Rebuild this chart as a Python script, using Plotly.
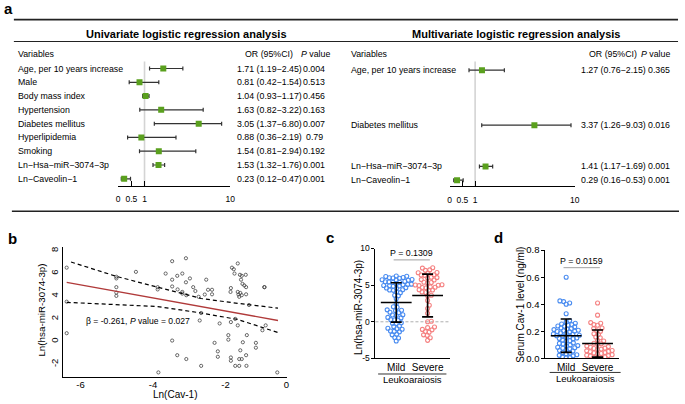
import math
import plotly.graph_objects as go

FONT = 'Liberation Sans, Arial, Helvetica, sans-serif'
W, H = 685, 404

# ---------------- a: logistic regression ----------------
uni_vars = ['Age, per 10 years increase', 'Male', 'Body mass index', 'Hypertension',
            'Diabetes mellitus', 'Hyperlipidemia', 'Smoking',
            'Ln−Hsa−miR−3074−3p', 'Ln−Caveolin−1']
uni_or = [1.71, 0.81, 1.04, 1.63, 3.05, 0.88, 1.54, 1.53, 0.23]
uni_lo = [1.19, 0.42, 0.93, 0.82, 1.37, 0.36, 0.81, 1.32, 0.12]
uni_hi = [2.45, 1.54, 1.17, 3.22, 6.80, 2.19, 2.94, 1.76, 0.47]
uni_p = ['0.004', '0.513', '0.456', '0.163', '0.007', '0.79', '0.192', '0.001', '0.001']

multi_vars = ['Age, per 10 years increase', 'Diabetes mellitus',
              'Ln−Hsa−miR−3074−3p', 'Ln−Caveolin−1']
multi_or = [1.27, 3.37, 1.41, 0.29]
multi_lo = [0.76, 1.26, 1.17, 0.16]
multi_hi = [2.15, 9.03, 1.69, 0.53]
multi_p = ['0.365', '0.016', '0.001', '0.001']

or_ticks = [0, 0.5, 1, 10]
or_tick_text = ['0', '0.5', '1', '10']

# ---------------- b: scatter ----------------
cav_x = [-6.38, -6.38, -6.38, -5.01, -5.01, -5.01, -5.01, -5.01, -4.47, -3.87,
         -3.87, -3.85, -3.65, -3.47, -3.47, -3.47, -3.47, -3.33, -3.32, -3.33,
         -3.19, -3.19, -3.19, -3.09, -3.09, -3.08, -3.08, -2.98, -2.89, -2.83,
         -2.71, -2.74, -2.67, -2.67, -2.57, -2.53, -2.48, -2.37, -2.37, -2.30,
         -2.21, -2.21, -2.16, -1.92, -1.92, -1.86, -1.85, -1.85, -1.85, -1.85,
         -1.82, -1.77, -1.75, -1.73, -1.66, -1.66, -1.64, -1.62, -1.59, -1.55,
         -1.66, -1.62, -1.55, -1.60, -1.55, -1.44, -1.57, -1.53, -1.48, -1.43,
         -1.52, -1.59, -1.43, -1.42, -1.62, -1.73, -1.41, -1.43, -1.35, -1.16,
         -1.16, -0.98, -0.93, -0.92, -0.89, -0.57]
mir_y = [6.52, 3.52, 0.74, 5.72, 5.57, 4.80, 4.32, 4.03, 6.15, 4.80,
         4.60, -2.72, 6.00, 7.09, 5.46, 4.86, 0.09, 5.80, 4.60, -1.20,
         6.00, 4.38, 4.23, 7.35, 5.23, 4.09, -1.54, 5.57, 4.80, 4.46,
         1.86, 3.95, -2.14, 2.52, 4.15, 5.46, 4.57, 4.57, 4.17, -0.11,
         -0.86, -1.34, 1.60, 0.57, 0.17, 4.38, 4.72, 1.72, -1.40, -1.69,
         6.52, 6.38, 6.00, 2.00, 6.89, 4.38, 4.15, 3.95, 4.29, 4.09,
         1.43, -1.54, -1.54, 5.89, 5.80, 5.89, 5.46, 5.09, 4.95, 4.80,
         -0.06, -0.77, -1.20, -2.14, -2.14, -2.14, 0.57, 4.17, 3.23, -0.11,
         -0.54, 1.00, 4.80, 4.80, 1.43, -2.72]
fit_x = [-6.38, -0.55]
fit_y = [5.23, 1.86]
up_x = [-6.26, -5.01, -3.87, -2.67, -1.66, -0.55]
up_y = [7.02, 5.75, 4.80, 3.80, 3.37, 2.95]
lo_x = [-6.38, -5.01, -3.87, -2.67, -1.66, -0.55]
lo_y = [3.46, 3.23, 3.09, 2.52, 1.95, 0.80]

# ---------------- c / d: Mild vs Severe ----------------
groups = ['Mild', 'Severe']
mir_mild = [6.25, 6.21, 6.18, 6.05, 6.02, 5.98, 5.95, 5.78, 5.74, 5.70, 5.66,
            5.50, 5.46, 5.43, 5.40, 5.37, 5.18, 5.14, 5.10, 5.06, 4.95, 4.91,
            4.88, 4.84, 4.66, 4.61, 4.57, 4.38, 4.33, 4.29, 4.05, 3.98, 3.62,
            3.55, 3.14, 2.48, 2.06, 1.98, 1.63, 1.57, 1.52, 1.30, 1.24, 0.97,
            0.92, 0.86, 0.60, 0.53, 0.29, 0.24, 0.18, -0.14, -0.19, -0.24,
            -0.58, -0.66, -0.89, -0.95, -1.01, -1.25, -1.31, -1.37, -1.70,
            -1.78, -2.14, -2.22, -2.62]
mir_severe = [7.38, 7.33, 7.08, 7.02, 6.73, 6.69, 6.64, 6.42, 6.38, 6.33, 6.07,
              6.03, 5.98, 5.76, 5.70, 5.40, 5.36, 5.31, 5.06, 5.02, 4.98, 4.94,
              4.75, 4.71, 4.67, 4.63, 4.38, 4.34, 4.29, 4.06, 3.99, 3.63, 3.55,
              2.92, 2.26, 1.81, 1.15, 0.08, 0.01, -0.72, -0.80, -1.04, -1.10,
              -1.34, -1.42, -1.78, -1.86, -2.17, -2.53]
mir_mean = [2.64, 3.59]
mir_sd = [2.68, 2.92]
mir_p = 'P = 0.1309'

cav_mild = [0.60, 0.425, 0.42, 0.41, 0.40, 0.33, 0.28, 0.27, 0.26, 0.255, 0.25,
            0.245, 0.24, 0.237, 0.233, 0.225, 0.22, 0.217, 0.213, 0.208, 0.205,
            0.202, 0.199, 0.196, 0.188, 0.185, 0.181, 0.178, 0.171, 0.168, 0.165,
            0.162, 0.155, 0.151, 0.148, 0.145, 0.135, 0.131, 0.127, 0.115, 0.111,
            0.107, 0.099, 0.095, 0.091, 0.083, 0.079, 0.075, 0.072, 0.063, 0.059,
            0.055, 0.043, 0.039, 0.035, 0.027, 0.023, 0.019, 0.010, 0.006, 0.003]
cav_severe = [0.41, 0.32, 0.265, 0.26, 0.25, 0.245, 0.225, 0.22, 0.205, 0.20,
              0.182, 0.177, 0.158, 0.153, 0.134, 0.129, 0.112, 0.108, 0.104,
              0.091, 0.087, 0.083, 0.076, 0.073, 0.069, 0.066, 0.059, 0.056,
              0.052, 0.049, 0.043, 0.040, 0.037, 0.034, 0.027, 0.024, 0.021,
              0.018, 0.011, 0.008, 0.005, 0.002]
cav_mean = [0.168, 0.110]
cav_sd = [0.123, 0.100]
cav_p = 'P = 0.0159'

GREEN = '#5aa01e'
BLUE = '#4a8cf0'
SALMON = '#f58282'


def dx(a, b):
    return [a / W, b / W]


def dy(top, bottom):
    return [1 - bottom / H, 1 - top / H]


def scale_or(v, k):
    # linear up to 3.3, compressed above (as on the original OR axis)
    return v if v <= 3.3 else 3.3 + k * math.log(v / 3.3)


K_UNI, K_MULTI = 0.854, 1.46


def swarm(vals, unit_px, cat_px, diam):
    # simple beeswarm: x offsets (category units) so circles don't overlap
    order = sorted(range(len(vals)), key=lambda i: vals[i])
    placed = []
    out = [0.0] * len(vals)
    for i in order:
        yv = vals[i] * unit_px
        cands = [0.0]
        for py_, px_ in placed:
            d = yv - py_
            if abs(d) < diam:
                s = math.sqrt(diam ** 2 - d ** 2)
                cands += [px_ + s, px_ - s]
        cands.sort(key=abs)
        for c in cands:
            if all((c - px_) ** 2 + (yv - py_) ** 2 >= diam ** 2 - 1e-6 for py_, px_ in placed):
                break
        placed.append((yv, c))
        out[i] = c / cat_px
    return out


fig = go.Figure()
annots = []
shapes = []


def note(text, x, y, size, **kw):
    d = dict(text=text, x=x / W, y=1 - y / H, xref='paper', yref='paper',
             showarrow=False, font=dict(size=size, color='black'),
             xanchor='center', yanchor='middle')
    d.update(kw)
    annots.append(d)


def hline(x0, x1, y, width, color='black', dash='solid'):
    shapes.append(dict(type='line', xref='paper', yref='paper', x0=x0 / W, x1=x1 / W,
                       y0=1 - y / H, y1=1 - y / H, line=dict(color=color, width=width, dash=dash)))


# ----- forest plots -----
def forest(orv, lo, hi, rows, k, xa, ya):
    t = [scale_or(v, k) for v in orv]
    fig.add_trace(go.Scatter(
        x=t, y=rows, xaxis=xa, yaxis=ya, mode='markers',
        marker=dict(symbol='square', size=6, color=GREEN),
        error_x=dict(type='data', symmetric=False,
                     array=[scale_or(h, k) - a for h, a in zip(hi, t)],
                     arrayminus=[a - scale_or(l, k) for l, a in zip(lo, t)],
                     color='#333', thickness=1.2, width=2),
        showlegend=False, hoverinfo='skip'))


uni_rows = list(range(len(uni_vars)))
multi_rows = [uni_vars.index(v) for v in multi_vars]
forest(uni_or, uni_lo, uni_hi, uni_rows, K_UNI, 'x', 'y')
forest(multi_or, multi_lo, multi_hi, multi_rows, K_MULTI, 'x2', 'y2')

for xa, k in (('x', K_UNI), ('x2', K_MULTI)):
    shapes.append(dict(type='line', xref=xa, yref='paper', x0=scale_or(1, k), x1=scale_or(1, k),
                       y0=1 - 57 / H, y1=1 - 185 / H, layer='below',
                       line=dict(color='#d4d4d4', width=1.6)))

for ya, xl, xor, xp, names, orv, lo, hi, pv, rows in (
        ('y', 14, 270, 315.5, uni_vars, uni_or, uni_lo, uni_hi, uni_p, uni_rows),
        ('y2', 350.7, 617.5, 664, multi_vars, multi_or, multi_lo, multi_hi, multi_p, multi_rows)):
    for name, o, l, h, p, r in zip(names, orv, lo, hi, pv, rows):
        annots.append(dict(text=name, x=xl / W, y=r, xref='paper', yref=ya, showarrow=False,
                           xanchor='left', yanchor='middle', font=dict(size=8.8, color='black')))
        annots.append(dict(text=f'{o:.2f} ({l:.2f}−{h:.2f})', x=xor / W, y=r, xref='paper', yref=ya,
                           showarrow=False, xanchor='center', yanchor='middle',
                           font=dict(size=8.8, color='black')))
        annots.append(dict(text=p, x=xp / W, y=r, xref='paper', yref=ya, showarrow=False,
                           xanchor='center', yanchor='middle', font=dict(size=8.8, color='black')))

note('<b>Univariate logistic regression analysis</b>', 186, 28.3, 11)
note('<b>Multivariate logistic regression analysis</b>', 519, 28.3, 11)
for xl, xo, xp in ((14, 269.5, 316.5), (350.7, 617, 660.5)):
    note('Variables', xl, 49, 8.8, xanchor='left')
    note('OR (95%CI)', xo, 49, 8.8)
    note('<i>P</i> value', xp, 49, 8.8)

hline(12, 683, 14, 1.8, '#222')
hline(12, 683, 36.5, 1.2, '#222')
hline(10, 684, 211, 1.5, '#222')

# ----- b -----
fig.add_trace(go.Scatter(x=cav_x, y=mir_y, xaxis='x3', yaxis='y3', mode='markers',
                         marker=dict(symbol='circle-open', size=3.2, color='#444',
                                     line=dict(width=0.8)),
                         showlegend=False, hoverinfo='skip'))
fig.add_trace(go.Scatter(x=up_x, y=up_y, xaxis='x3', yaxis='y3', mode='lines',
                         line=dict(color='black', width=1.2, dash='4px,3px'),
                         showlegend=False, hoverinfo='skip'))
fig.add_trace(go.Scatter(x=lo_x, y=lo_y, xaxis='x3', yaxis='y3', mode='lines',
                         line=dict(color='black', width=1.2, dash='4px,3px'),
                         showlegend=False, hoverinfo='skip'))
fig.add_trace(go.Scatter(x=fit_x, y=fit_y, xaxis='x3', yaxis='y3', mode='lines',
                         line=dict(color='#b03a3a', width=1.3),
                         showlegend=False, hoverinfo='skip'))
note('β = -0.261, <i>P</i> value = 0.027', 83, 324, 8.6, xanchor='left')
note('Ln(hsa-miR-3074-3p)', 39.5, 313, 9.8, textangle=-90)
note('Ln(Cav-1)', 175, 399, 10)

# ----- c and d -----
CAT_PX = 31.7
for xa, ya, mild, severe, mean, sd, unit_px, ptxt, pline, ptxt_y, under in (
        ('x4', 'y4', mir_mild, mir_severe, mir_mean, mir_sd, 7.53, mir_p, (395.7, 432.3, 261), 254,
         (380, 449, 378.3, 415, 384.3)),
        ('x5', 'y5', cav_mild, cav_severe, cav_mean, cav_sd, 139.0, cav_p, (567.3, 604, 269), 261.7,
         (553.3, 625, 376.7, 589.3, 383.3))):
    for gi, (vals, col) in enumerate(((mild, BLUE), (severe, SALMON))):
        offs = swarm(vals, unit_px, CAT_PX, 3.8)
        fig.add_trace(go.Scatter(x=[gi + o for o in offs], y=vals, xaxis=xa, yaxis=ya,
                                 mode='markers',
                                 marker=dict(symbol='circle-open', size=4, color=col,
                                             line=dict(width=1.1)),
                                 showlegend=False, hoverinfo='skip'))
    fig.add_trace(go.Scatter(x=[0, 1], y=mean, xaxis=xa, yaxis=ya, mode='markers',
                             marker=dict(symbol='line-ew', size=22, color='black',
                                         line=dict(width=1.6, color='black')),
                             error_y=dict(type='data', array=sd, color='black',
                                          thickness=1.6, width=5.5),
                             showlegend=False, hoverinfo='skip'))
    x0, x1, yl = pline
    hline(x0, x1, yl, 1, '#a0a0a0')
    note(ptxt, (x0 + x1) / 2, ptxt_y, 8.8)
    ux0, ux1, uy, tx, ty = under
    hline(ux0, ux1, uy, 1, '#333')
    note('Leukoaraiosis', tx, ty, 9.5)

shapes.append(dict(type='line', xref='x4 domain', yref='y4', x0=0, x1=1, y0=0, y1=0,
                   line=dict(color='#999', width=0.8, dash='3px,2px'), layer='below'))
note('Ln(hsa-miR-3074-3p)', 360, 310, 10, textangle=-90)
note('Serum Cav-1 level (ng/ml)', 523.7, 306.7, 10, textangle=-90)

# panel letters
note('<b>a</b>', 0, 3, 15, xanchor='left')
note('<b>b</b>', 10.5, 238.5, 15)
note('<b>c</b>', 331, 238, 15)
note('<b>d</b>', 501.5, 238, 15)


def ax(**kw):
    base = dict(showgrid=False, zeroline=False, fixedrange=True, showline=True,
                linecolor='black', linewidth=1, tickcolor='black', ticks='')
    base.update(kw)
    return base


fig.update_layout(
    width=W, height=H, margin=dict(l=0, r=0, t=0, b=0),
    paper_bgcolor='white', plot_bgcolor='rgba(0,0,0,0)',
    font=dict(family=FONT, color='black', size=9),
    hovermode=False,
    xaxis=ax(domain=dx(117.3, 230.7), range=[0, scale_or(10, K_UNI)], anchor='y',
             tickvals=[scale_or(v, K_UNI) for v in or_ticks], ticktext=or_tick_text,
             ticks='inside', ticklen=5, tickwidth=1.2, linewidth=1.2,
             tickfont=dict(size=8.5), ticklabelstandoff=5),
    yaxis=dict(domain=dy(43, 185), range=[8.52, -1.50], visible=False, anchor='x',
               fixedrange=True),
    xaxis2=ax(domain=dx(452.3, 578.7), range=[0, scale_or(10, K_MULTI)], anchor='y2',
              tickvals=[scale_or(v, K_MULTI) for v in or_ticks], ticktext=or_tick_text,
              ticks='inside', ticklen=5, tickwidth=1.2, linewidth=1.2,
              tickfont=dict(size=8.5), ticklabelstandoff=5),
    yaxis2=dict(domain=dy(43, 185.5), range=[8.46, -1.63], visible=False, anchor='x2',
                fixedrange=True),
    xaxis3=ax(domain=dx(61.7, 288), range=[-6.48, -0.30], anchor='y3',
              tickvals=[-6, -4, -2, -0.32], ticktext=['-6', '-4', '-2', '0'],
              tickfont=dict(size=9.5), ticklabelstandoff=-2),
    yaxis3=ax(domain=dy(248, 381.7), range=[-3.15, 8.32], anchor='x3',
              tickvals=[-2, 0, 2, 4, 6, 8], ticktext=['-2', '0', '2', '4', '6', '8'],
              tickangle=-90, tickfont=dict(size=9.5)),
    xaxis4=ax(domain=dx(377.3, 452.7), range=[-0.662, 1.716], anchor='y4',
              tickvals=[0, 1], ticktext=groups, tickfont=dict(size=10)),
    yaxis4=ax(domain=dy(249.3, 362.3), range=[-5, 10], anchor='x4',
              tickvals=[-5, 0, 5, 10], ticktext=['-5', '0', '5', '10'],
              ticks='outside', ticklen=3, tickfont=dict(size=8.5)),
    xaxis5=ax(domain=dx(549, 623.3), range=[-0.662, 1.681], anchor='y5',
              tickvals=[0, 1], ticktext=groups, tickfont=dict(size=10)),
    yaxis5=ax(domain=dy(251, 362.3), range=[0, 0.8], anchor='x5',
              tickvals=[0, 0.2, 0.4, 0.6, 0.8], ticktext=['0.0', '0.2', '0.4', '0.6', '0.8'],
              ticks='outside', ticklen=3, tickfont=dict(size=9.5)),
    annotations=annots,
    shapes=shapes,
)

# drop the page's default body margin so the figure sits at the window's corner
fig.write_html('out.html', config={'displayModeBar': False},
               post_script="document.body.style.margin='0';")
